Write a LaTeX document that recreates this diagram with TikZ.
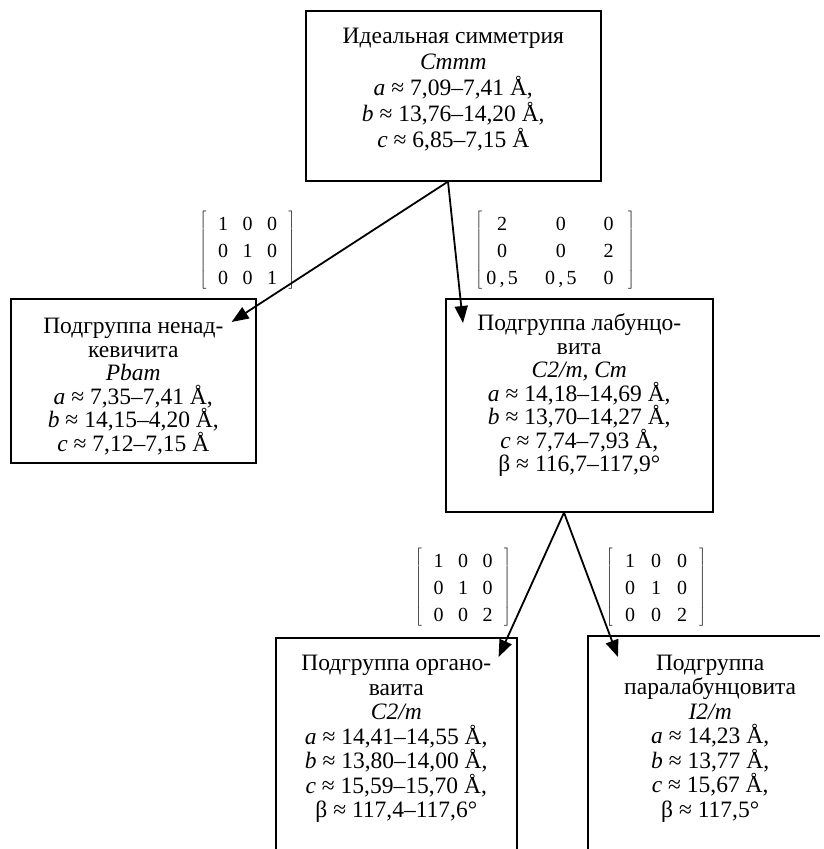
\documentclass[tikz,border=0pt]{standalone}
\usepackage{fontspec}
\setmainfont{Liberation Serif}
\usetikzlibrary{arrows.meta,matrix,calc}
\newcommand\bxt[5]{\parbox[c][#2][t]{#1}{\centering\lineskiplimit=-50pt\fontsize{23.5}{#4}\selectfont\rule{0pt}{#3}#5\par}}
\tikzset{
  boxnode/.style={draw, line width=1.6pt, inner sep=0pt, anchor=north west},
  boxline/.style={line width=1.6pt},
  link/.style={line width=1.8pt, -{Triangle[length=17pt,width=13pt]}},
  mat/.style={matrix of nodes, inner xsep=3pt, inner ysep=6pt, row sep=13pt, column sep=0pt,
    nodes={font=\fontsize{20}{20}\selectfont, inner sep=0pt, minimum width=24.5pt, text height=14pt, text depth=0pt},
    left delimiter={[}, right delimiter={]}},
}
\begin{document}
\begin{tikzpicture}[x=1pt,y=-1pt]
\useasboundingbox (0,0) rectangle (823,849);
\clip (0,0) rectangle (823,849);

\node[boxnode] (top) at (305,10) {\bxt{295pt}{170pt}{33pt}{26pt}{Идеальная симметрия\\ \textit{Cmmm}\\ \textit{a} ≈ 7,09–7,41 Å,\\ \textit{b} ≈ 13,76–14,20 Å,\\ \textit{c} ≈ 6,85–7,15 Å}};

\node[boxnode] (left) at (10,298) {\bxt{245pt}{164pt}{35pt}{23.5pt}{Подгруппа ненад-\\ кевичита\\ \textit{Pbam}\\ \textit{a} ≈ 7,35–7,41 Å,\\ \textit{b} ≈ 14,15–4,20 Å,\\ \textit{c} ≈ 7,12–7,15 Å}};

\node[boxnode] (mid) at (445,298) {\bxt{267pt}{213pt}{32pt}{23.5pt}{Подгруппа лабунцо-\\ вита\\ \textit{C2/m, Cm}\\ \textit{a} ≈ 14,18–14,69 Å,\\ \textit{b} ≈ 13,70–14,27 Å,\\ \textit{c} ≈ 7,74–7,93 Å,\\ β ≈ 116,7–117,9°}};

\node[boxnode] (bl) at (275,637) {\bxt{241pt}{250pt}{33pt}{24.5pt}{Подгруппа органо-\\ ваита\\ \textit{C2/m}\\ \textit{a} ≈ 14,41–14,55 Å,\\ \textit{b} ≈ 13,80–14,00 Å,\\ \textit{c} ≈ 15,59–15,70 Å,\\ β ≈ 117,4–117,6°}};

\node[inner sep=0pt, anchor=north west] (br) at (588,636) {\bxt{244pt}{213pt}{34pt}{24.5pt}{Подгруппа\\ паралабунцовита\\ \textit{I2/m}\\ \textit{a} ≈ 14,23 Å,\\ \textit{b} ≈ 13,77 Å,\\ \textit{c} ≈ 15,67 Å,\\ β ≈ 117,5°}};
\draw[boxline] ($(br.south west)+(0,20)$) -- (br.north west) -- ($(br.north west)+(232,0)$);

\matrix (m1) [mat] at (247.5,250) {1 & 0 & 0 \\ 0 & 1 & 0 \\ 0 & 0 & 1 \\};
\matrix (m2) [mat, nodes={minimum width=30pt}] at (555,250) {2 &[27pt] 0 &[17pt] 0 \\ 0 & 0 & 2 \\ 0\,,\,5 & 0\,,\,5 & 0 \\};
\matrix (m3) [mat] at (463,587) {1 & 0 & 0 \\ 0 & 1 & 0 \\ 0 & 0 & 2 \\};
\matrix (m4) [mat, nodes={minimum width=26pt}] at (656,587) {1 & 0 & 0 \\ 0 & 1 & 0 \\ 0 & 0 & 2 \\};

\coordinate (s1) at ($(top.south west)+(143,0)$);
\coordinate (tA) at ($(left.north east)+(-25,24)$);
\coordinate (tB) at ($(mid.north west)+(18,25)$);
\coordinate (s2) at ($(mid.south west)+(119,0)$);
\coordinate (tC) at ($(bl.north east)+(-19,20)$);
\coordinate (tD) at ($(br.north west)+(30,21)$);

\draw[link] (s1) -- (tA);
\draw[link] (s1) -- (tB);
\draw[link] (s2) -- (tC);
\draw[link] (s2) -- (tD);
\end{tikzpicture}
\end{document}
